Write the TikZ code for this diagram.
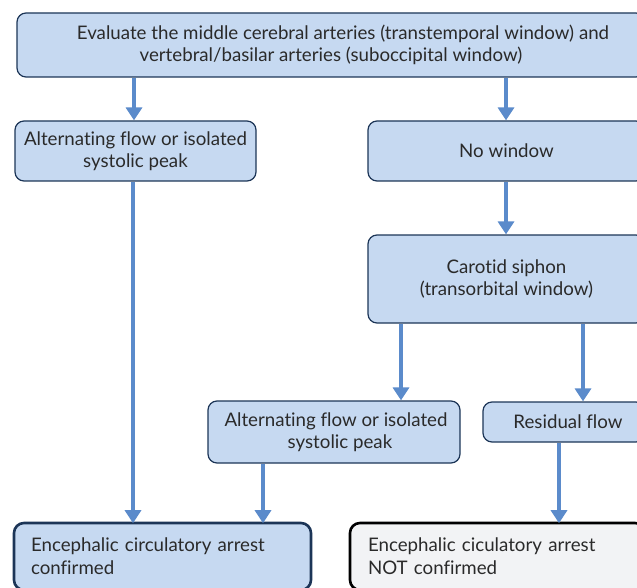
\documentclass[tikz,border=0pt]{standalone}
\usepackage{fontspec}
\setmainfont{Lato}[RawFeature={-liga}]
\usetikzlibrary{arrows.meta}
\definecolor{boxfill}{HTML}{C6D9F1}
\definecolor{boxline}{HTML}{1C3557}
\definecolor{arrblue}{HTML}{5B8BCB}
\definecolor{greyfill}{HTML}{F2F3F5}
\definecolor{txt}{HTML}{2A2A2A}
\tikzset{
  box/.style={rounded corners=9pt, fill=boxfill, draw=boxline, line width=1.2pt,
    inner sep=0pt, align=center, text=txt, font=\fontsize{18.7}{22.5}\selectfont},
  endbox/.style={rounded corners=10pt, line width=2.6pt, inner ysep=0pt,
    align=left, text=txt, font=\fontsize{18.7}{23}\selectfont},
  arr/.style={draw=arrblue, line width=4pt, -{Triangle[width=16pt,length=13pt]}, arrblue}
}
\begin{document}
\begin{tikzpicture}[x=1pt,y=-1pt]
\useasboundingbox (0,0) rectangle (637,588);
\clip (0,0) rectangle (637,588);
\node[box, minimum width=628pt, minimum height=64pt] (top) at (331,45)
  {\hspace*{24pt}Evaluate the middle cerebral arteries (transtemporal window) and\\vertebral/basilar arteries (suboccipital window)};
\node[box, minimum width=241pt, minimum height=60pt] (alt1) at (135.5,151)
  {Alternating flow or isolated\\systolic peak};
\node[box, minimum width=277pt, minimum height=60pt] (nowin) at (506.5,151)
  {No window};
\node[box, minimum width=277pt, minimum height=88pt] (carotid) at (506.5,279)
  {Carotid siphon\\(transorbital window)};
\node[box, minimum width=252pt, minimum height=62pt] (alt2) at (334,432)
  {\hspace*{4pt}Alternating flow or isolated\\\hspace*{12pt}systolic peak};
\node[box, minimum width=162pt, minimum height=40pt] (resid) at (564,422)
  {\hspace*{8pt}Residual flow};
\node[endbox, fill=boxfill, draw=boxline, text width=263pt, inner xsep=17pt, minimum height=67pt] (conf) at (162.5,556.5)
  {Encephalic circulatory arrest\\confirmed};
\node[endbox, fill=greyfill, draw=black, text width=259pt, inner xsep=18pt, minimum height=67pt] (notconf) at (497.5,556.5)
  {Encephalic ciculatory arrest\\NOT confirmed};
\draw[arr] (top.south -| 134,0) -- (alt1.north -| 134,0);
\draw[arr] (top.south -| 506,0) -- (nowin.north -| 506,0);
\draw[arr] (nowin.south -| 506,0) -- (carotid.north -| 506,0);
\draw[arr] (carotid.south -| 401,0) -- (alt2.north -| 401,0);
\draw[arr] (carotid.south -| 583,0) -- (resid.north -| 583,0);
\draw[arr] (alt1.south -| 133,0) -- ([yshift=-1.5pt]conf.north -| 133,0);
\draw[arr] (alt2.south -| 263,0) -- ([yshift=-1.5pt]conf.north -| 263,0);
\draw[arr] (resid.south -| 559,0) -- ([yshift=-1.5pt]notconf.north -| 559,0);
\end{tikzpicture}
\end{document}
